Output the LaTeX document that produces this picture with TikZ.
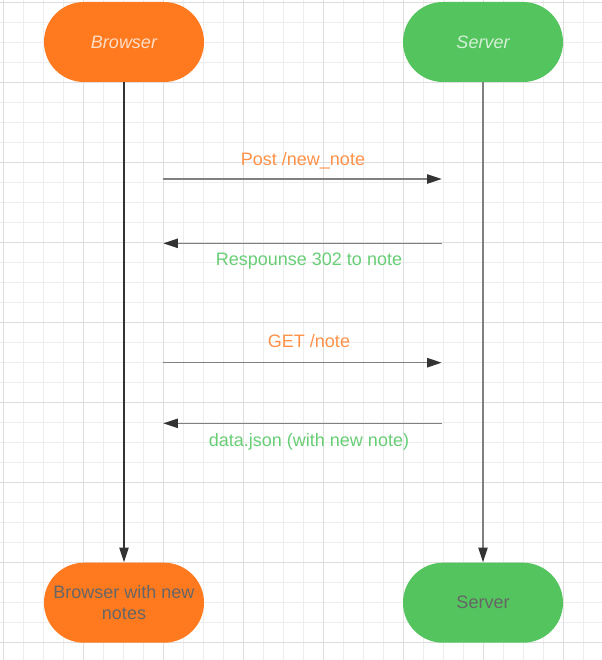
\documentclass[tikz,border=0pt]{standalone}
\usepackage{fontspec}
\setmainfont{Liberation Sans}
\usetikzlibrary{arrows.meta}

\tikzset{every picture/.style={line width=0.75pt}}
\tikzset{
  pill/.style={rounded corners=30pt, minimum width=120pt, minimum height=60pt, inner sep=0.75pt, align=center, font=\fontsize{13.5}{15.75}\selectfont},
  browserpill/.style={pill, fill={rgb, 255:red, 255; green, 122; blue, 31}},
  serverpill/.style={pill, fill={rgb, 255:red, 84; green, 196; blue, 94}},
  msglabel/.style={inner sep=0.75pt, font=\fontsize{13.5}{15.75}\selectfont},
  msg/.style={color={rgb, 255:red, 128; green, 128; blue, 128}, line width=1.1pt, -{Triangle[length=11pt, width=7pt, color={rgb, 255:red, 51; green, 51; blue, 51}]}}
}

\begin{document}
\begin{tikzpicture}[x=0.75pt,y=0.75pt,yscale=-1,xscale=1]
\useasboundingbox (0,0) rectangle (602,660);

%Grid background
\foreach \gx in {3.3,23.3,...,603.3} \draw [color={rgb, 255:red, 237; green, 237; blue, 237 }] (\gx,0) -- (\gx,660) ;
\foreach \gy in {2.7,22.7,...,662.7} \draw [color={rgb, 255:red, 237; green, 237; blue, 237 }] (0,\gy) -- (602,\gy) ;
\foreach \gx in {3.3,83.3,...,563.3} \draw [color={rgb, 255:red, 222; green, 222; blue, 222 }] (\gx,0) -- (\gx,660) ;
\foreach \gy in {2.7,82.7,...,642.7} \draw [color={rgb, 255:red, 222; green, 222; blue, 222 }] (0,\gy) -- (602,\gy) ;

%Rounded Rect [id:browser]
\node [browserpill, text={rgb, 255:red, 255; green, 255; blue, 255 }, text opacity=0.75] (browser) at (124,42) {\itshape Browser};
%Rounded Rect [id:server]
\node [serverpill, text={rgb, 255:red, 255; green, 255; blue, 255 }, text opacity=0.75] (server) at (483,42) {\itshape Server};
%Rounded Rect [id:browserEnd]
\node [browserpill, text={rgb, 255:red, 102; green, 102; blue, 102 }] (browserEnd) at (124,602.7) {Browser with new\\notes};
%Rounded Rect [id:serverEnd]
\node [serverpill, text={rgb, 255:red, 102; green, 102; blue, 102 }] (serverEnd) at (483,602.7) {Server};

%Lifelines
\draw [color={rgb, 255:red, 51; green, 51; blue, 51 }, line width=0.9pt, -{Triangle[length=11pt, width=7pt]}] (browser) -- (browserEnd) ;
\draw [msg] (server) -- (serverEnd) ;

%Message end points
\coordinate (postStart) at (163.3,179) ;
\coordinate (postEnd) at (441.7,179) ;
\coordinate (redirStart) at (441.7,243.3) ;
\coordinate (redirEnd) at (163.3,243.3) ;
\coordinate (getStart) at (163.3,362.7) ;
\coordinate (getEnd) at (441.7,362.7) ;
\coordinate (dataStart) at (441.7,423.3) ;
\coordinate (dataEnd) at (163.3,423.3) ;

%Straight Lines
\draw [msg] (postStart) -- (postEnd) ;
\draw [msg] (redirStart) -- (redirEnd) ;
\draw [msg] (getStart) -- (getEnd) ;
\draw [msg] (dataStart) -- (dataEnd) ;

% Text Node
\node [msglabel, text={rgb, 255:red, 255; green, 146; blue, 72 }] (postLabel) at (303,161) {Post /new\_note};
% Text Node
\node [msglabel, text={rgb, 255:red, 104; green, 206; blue, 118 }] (redirLabel) at (309,261.5) {Respounse 302 to note};
% Text Node
\node [msglabel, text={rgb, 255:red, 255; green, 146; blue, 72 }] (getLabel) at (309,341) {GET /note};
% Text Node
\node [msglabel, text={rgb, 255:red, 104; green, 206; blue, 118 }] (dataLabel) at (309,441.5) {data.json (with new note)};

\end{tikzpicture}
\end{document}
